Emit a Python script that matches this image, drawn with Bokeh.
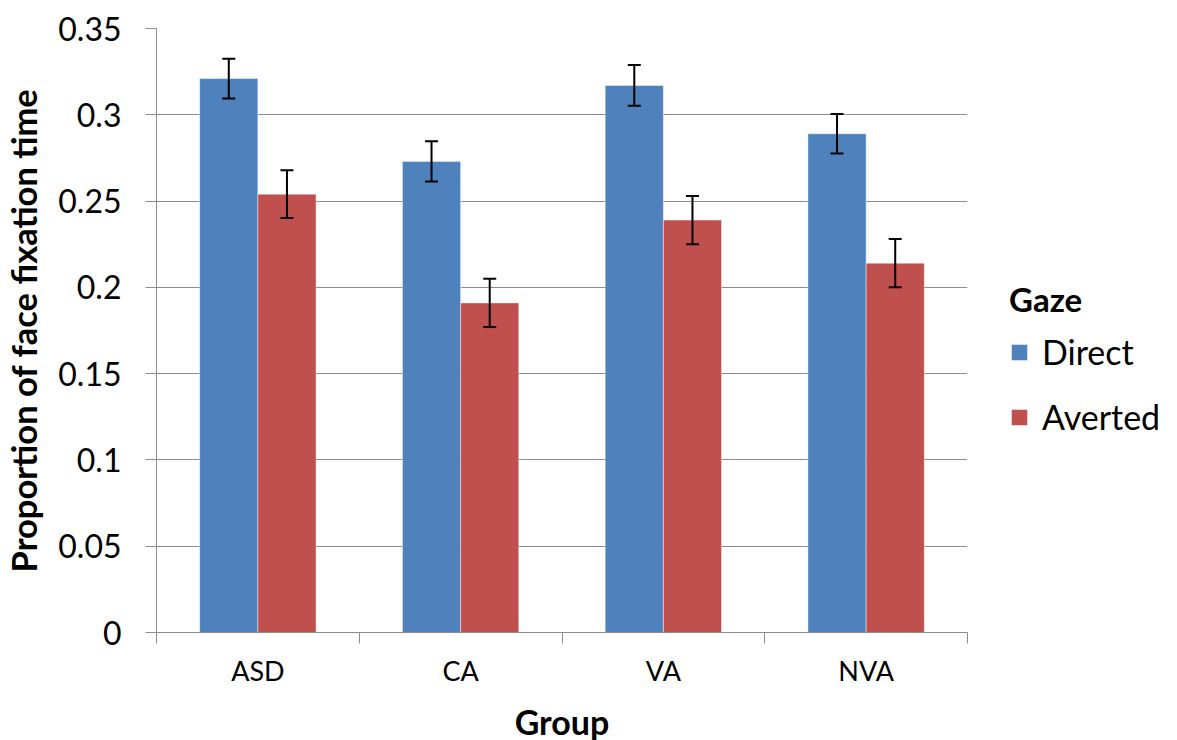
from bokeh.plotting import figure
from bokeh.models import (ColumnDataSource, Range1d, FixedTicker, Whisker, TeeHead,
                          Legend, LegendItem)
from bokeh.transform import dodge
from bokeh.embed import file_html
from bokeh.resources import INLINE

groups = ["ASD", "CA", "VA", "NVA"]
direct = [0.321, 0.273, 0.317, 0.289]
direct_err = [0.0115, 0.0117, 0.0118, 0.0115]
averted = [0.254, 0.191, 0.239, 0.214]
averted_err = [0.0138, 0.0140, 0.0140, 0.0140]
y_ticks = [0, 0.05, 0.1, 0.15, 0.2, 0.25, 0.3, 0.35]
y_tick_labels = ["0", "0.05", "0.1", "0.15", "0.2", "0.25", "0.3", "0.35"]

BLUE = "#4F81BD"
RED = "#C0504D"
GRID = "#8c8c8c"
FONT = "Lato"

xpos = [i + 0.5 for i in range(len(groups))]
src = ColumnDataSource(dict(
    x=xpos, direct=direct, averted=averted,
    d_lo=[v - e for v, e in zip(direct, direct_err)],
    d_hi=[v + e for v, e in zip(direct, direct_err)],
    a_lo=[v - e for v, e in zip(averted, averted_err)],
    a_hi=[v + e for v, e in zip(averted, averted_err)],
))

p = figure(frame_width=811, frame_height=604, output_backend="svg", toolbar_location=None,
           x_range=Range1d(0, len(groups)), y_range=Range1d(0, 0.35),
           min_border_left=149, min_border_right=200, min_border_top=28,
           min_border_bottom=100)
p.outline_line_color = None
p.background_fill_color = "white"
p.border_fill_color = "white"

bw = 0.287
off = bw / 2
r_d = p.vbar(x=dodge("x", -off), top="direct", width=bw, source=src,
             fill_color=BLUE, line_color="white", line_alpha=0.45, line_width=1)
r_a = p.vbar(x=dodge("x", off), top="averted", width=bw, source=src,
             fill_color=RED, line_color="white", line_alpha=0.45, line_width=1)

for base, lo, hi in [(dodge("x", -off), "d_lo", "d_hi"), (dodge("x", off), "a_lo", "a_hi")]:
    w = Whisker(base=base, lower=lo, upper=hi, source=src, level="overlay",
                line_color="black", line_width=2,
                upper_head=TeeHead(size=13, line_color="black", line_width=2),
                lower_head=TeeHead(size=13, line_color="black", line_width=2))
    p.add_layout(w)

# x axis
xa = p.xaxis[0]
xa.ticker = FixedTicker(ticks=xpos, minor_ticks=list(range(len(groups) + 1)))
xa.major_label_overrides = {x: g for x, g in zip(xpos, groups)}
xa.major_tick_line_color = None
xa.major_tick_out = 11
xa.major_tick_in = 0
xa.minor_tick_out = 11
xa.minor_tick_in = 0
xa.minor_tick_line_color = GRID
xa.axis_line_color = GRID
xa.major_label_text_font = FONT
xa.major_label_text_font_size = "27px"
xa.major_label_text_color = "black"
xa.major_label_standoff = 10
xa.axis_label = "Group"
xa.axis_label_text_font = FONT
xa.axis_label_text_font_size = "34px"
xa.axis_label_text_font_style = "bold"
xa.axis_label_text_color = "black"
xa.axis_label_standoff = 11

ya = p.yaxis[0]
ya.ticker = FixedTicker(ticks=y_ticks)
ya.major_label_overrides = {t: l for t, l in zip(y_ticks, y_tick_labels)}
ya.major_tick_out = 11
ya.major_tick_in = 0
ya.minor_tick_line_color = None
ya.major_tick_line_color = GRID
ya.axis_line_color = GRID
ya.major_label_text_font = FONT
ya.major_label_text_font_size = "32px"
ya.major_label_text_color = "black"
ya.major_label_standoff = 24
ya.axis_label = "Proportion of face fixation time"
ya.axis_label_text_font = FONT
ya.axis_label_text_font_size = "34.5px"
ya.axis_label_text_font_style = "bold"
ya.axis_label_text_color = "black"
ya.axis_label_standoff = 11

p.xgrid.grid_line_color = None
p.ygrid.grid_line_color = GRID
p.ygrid.grid_line_width = 1

legend = Legend(items=[LegendItem(label="Direct", renderers=[r_d]),
                       LegendItem(label="Averted", renderers=[r_a])],
                title="Gaze", location=(42, 195), orientation="vertical")
legend.title_text_font = FONT
legend.title_text_font_size = "33px"
legend.title_text_font_style = "bold"
legend.title_text_color = "black"
legend.title_standoff = 12
legend.label_text_font = FONT
legend.label_text_font_size = "34px"
legend.label_text_color = "black"
legend.glyph_width = 20
legend.glyph_height = 20
legend.label_height = 36
legend.label_standoff = 13
legend.spacing = 24
legend.padding = 0
legend.margin = 0
legend.border_line_color = None
legend.background_fill_alpha = 0
p.add_layout(legend, "right")

open("out.html", "w").write(file_html(p, INLINE))
